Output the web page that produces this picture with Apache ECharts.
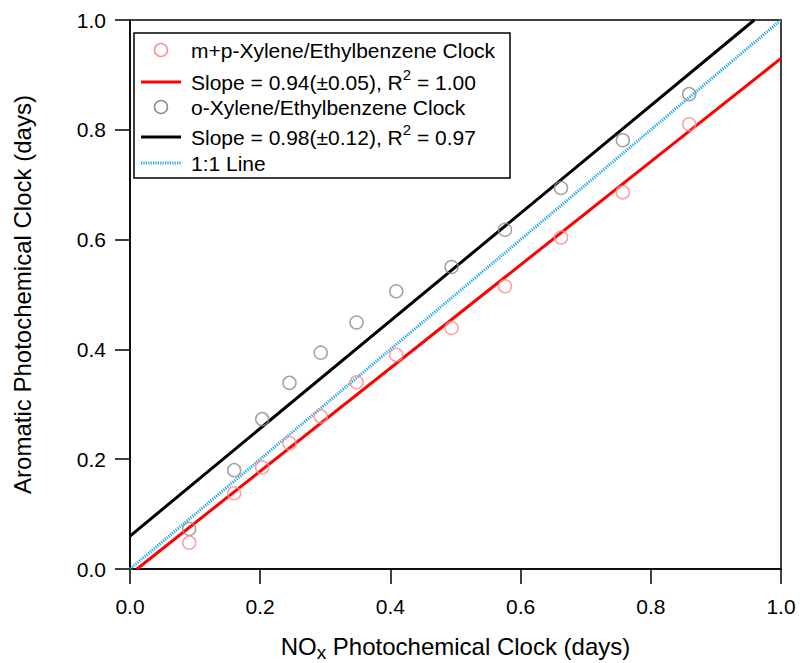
<!DOCTYPE html>
<html>
<head>
<meta charset="utf-8">
<script src="https://cdn.jsdelivr.net/npm/echarts@6/dist/echarts.min.js"></script>
<style>
html,body{margin:0;padding:0;background:#fff;}
#chart{width:803px;height:663px;}
</style>
</head>
<body>
<div id="chart"></div>
<script>
// NOx photochemical clock (days) for each sample
const noxClock = [0.091, 0.160, 0.203, 0.245, 0.293, 0.348, 0.409, 0.494, 0.576, 0.662, 0.757, 0.859];
// m+p-Xylene/Ethylbenzene clock (days)
const mpClock = [0.048, 0.138, 0.185, 0.229, 0.278, 0.340, 0.390, 0.439, 0.515, 0.604, 0.686, 0.810];
// o-Xylene/Ethylbenzene clock (days)
const oClock = [0.073, 0.180, 0.273, 0.339, 0.394, 0.449, 0.506, 0.550, 0.618, 0.694, 0.781, 0.865];
// fit lines (endpoints within the axes)
const mpFitX = [0.0106, 1.0];
const mpFitY = [0.0, 0.93];
const oFitX = [0.0, 0.959];
const oFitY = [0.06, 1.0];
const oneX = [0.0, 1.0];
const oneY = [0.0, 1.0];
const xTicks = [0, 0.2, 0.4, 0.6, 0.8, 1.0];
const yTicks = [0, 0.2, 0.4, 0.6, 0.8, 1.0];

const zip = (a, b) => a.map((v, i) => [v, b[i]]);
const FONT = '"Liberation Sans", Arial, sans-serif';
const RED_PT = '#ff8a8a';
const GRAY_PT = '#8c8c8c';
const BLUE = '#1ca3ec';

const chart = echarts.init(document.getElementById('chart'), null, {renderer: 'svg'});

const legendX = 134, legendY = 33, legendW = 376, legendH = 145;
const rows = [50, 82, 107, 137, 163];

const option = {
  animation: false,
  backgroundColor: '#fff',
  textStyle: {fontFamily: FONT},
  grid: {left: 130, right: 22, top: 20, bottom: 94, containLabel: false, outerBoundsMode: 'none',
    show: true, borderColor: '#000', borderWidth: 1.5, backgroundColor: 'transparent'},
  xAxis: {
    type: 'value', min: xTicks[0], max: xTicks[xTicks.length - 1], interval: 0.2,
    name: 'NO{sub|x} Photochemical Clock (days)',
    nameLocation: 'middle', nameGap: 62,
    nameTextStyle: {fontFamily: FONT, fontSize: 24, color: '#000',
      rich: {sub: {fontFamily: FONT, fontSize: 19, color: '#000', padding: [12, 0, 0, 0]}}},
    axisLine: {show: true, lineStyle: {color: '#000', width: 1.5}},
    axisTick: {show: true, inside: false, length: 15, lineStyle: {color: '#000', width: 1.5}},
    axisLabel: {fontFamily: FONT, fontSize: 21, color: '#000', margin: 27, formatter: v => v.toFixed(1)},
    splitLine: {show: false}
  },
  yAxis: {
    type: 'value', min: yTicks[0], max: yTicks[yTicks.length - 1], interval: 0.2,
    name: 'Aromatic Photochemical Clock (days)',
    nameLocation: 'middle', nameGap: 96, nameRotate: 90,
    nameTextStyle: {fontFamily: FONT, fontSize: 24, color: '#000'},
    axisLine: {show: true, lineStyle: {color: '#000', width: 1.5}},
    axisTick: {show: true, inside: false, length: 15, lineStyle: {color: '#000', width: 1.5}},
    axisLabel: {fontFamily: FONT, fontSize: 21, color: '#000', margin: 24, formatter: v => v.toFixed(1)},
    splitLine: {show: false}
  },
  series: [
    {name: '1:1 Line', type: 'line', data: zip(oneX, oneY), symbol: 'none', z: 2,
      lineStyle: {color: BLUE, width: 3, type: [1.2, 1.2]}},
    {name: 'o fit', type: 'line', data: zip(oFitX, oFitY), symbol: 'none', z: 3,
      lineStyle: {color: '#000', width: 3}},
    {name: 'm+p fit', type: 'line', data: zip(mpFitX, mpFitY), symbol: 'none', z: 3,
      lineStyle: {color: '#ff0000', width: 3}},
    {name: 'o-Xylene/Ethylbenzene Clock', type: 'scatter', data: zip(noxClock, oClock), symbol: 'circle', symbolSize: 13, z: 4,
      itemStyle: {color: 'rgba(255,255,255,0)', borderColor: GRAY_PT, borderWidth: 1.5}},
    {name: 'm+p-Xylene/Ethylbenzene Clock', type: 'scatter', data: zip(noxClock, mpClock), symbol: 'circle', symbolSize: 13, z: 4,
      itemStyle: {color: 'rgba(255,255,255,0)', borderColor: RED_PT, borderWidth: 1.5}}
  ],
  graphic: [
    {type: 'rect', shape: {x: legendX, y: legendY, width: legendW, height: legendH}, z: 10,
      style: {fill: '#fff', stroke: '#000', lineWidth: 1.5}},
    {type: 'circle', shape: {cx: 161, cy: rows[0], r: 6.5}, z: 11, style: {fill: 'none', stroke: RED_PT, lineWidth: 1.5}},
    {type: 'line', shape: {x1: 141, y1: rows[1], x2: 181, y2: rows[1]}, z: 11, style: {stroke: '#ff0000', lineWidth: 3}},
    {type: 'circle', shape: {cx: 161, cy: rows[2], r: 6.5}, z: 11, style: {fill: 'none', stroke: GRAY_PT, lineWidth: 1.5}},
    {type: 'line', shape: {x1: 141, y1: rows[3], x2: 181, y2: rows[3]}, z: 11, style: {stroke: '#000', lineWidth: 3}},
    {type: 'line', shape: {x1: 141, y1: rows[4], x2: 181, y2: rows[4]}, z: 11, style: {stroke: BLUE, lineWidth: 3, lineDash: [1.2, 1.2]}},
    {type: 'text', x: 191, y: rows[0], z: 11, style: {text: 'm+p-Xylene/Ethylbenzene Clock', font: '21px ' + FONT, fill: '#000', verticalAlign: 'middle'}},
    {type: 'text', x: 191, y: rows[1], z: 11, style: {text: 'Slope = 0.94(±0.05), R{sup|2} = 1.00', font: '21px ' + FONT, fill: '#000', verticalAlign: 'middle',
      rich: {sup: {fontFamily: FONT, fontSize: 15, fill: '#000', padding: [0, 0, 16, 0]}}}},
    {type: 'text', x: 191, y: rows[2], z: 11, style: {text: 'o-Xylene/Ethylbenzene Clock', font: '21px ' + FONT, fill: '#000', verticalAlign: 'middle'}},
    {type: 'text', x: 191, y: rows[3], z: 11, style: {text: 'Slope = 0.98(±0.12), R{sup|2} = 0.97', font: '21px ' + FONT, fill: '#000', verticalAlign: 'middle',
      rich: {sup: {fontFamily: FONT, fontSize: 15, fill: '#000', padding: [0, 0, 16, 0]}}}},
    {type: 'text', x: 191, y: rows[4], z: 11, style: {text: '1:1 Line', font: '21px ' + FONT, fill: '#000', verticalAlign: 'middle'}}
  ]
};
chart.setOption(option);
</script>
</body>
</html>
